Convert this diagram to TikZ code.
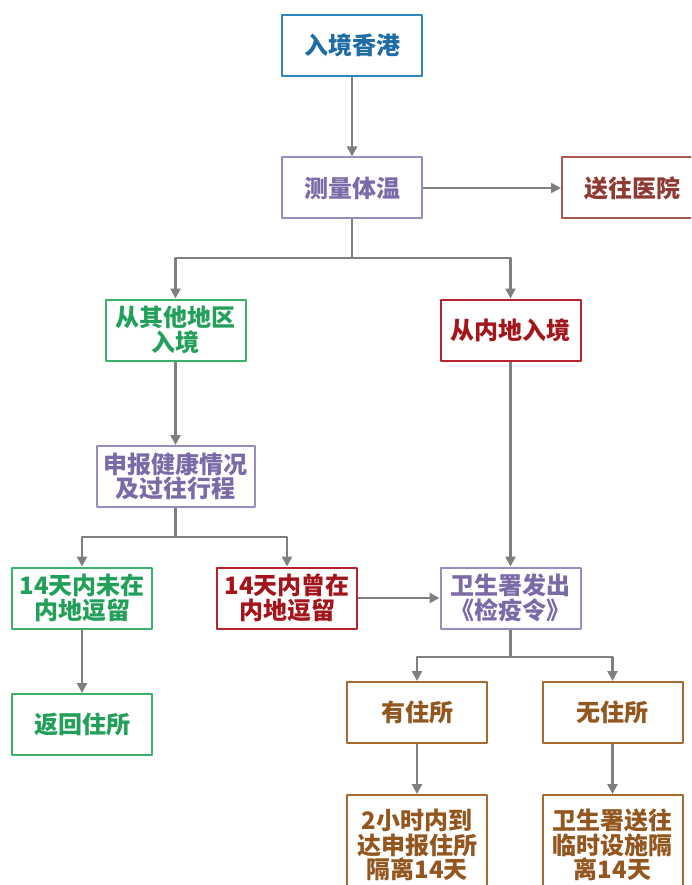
\documentclass[tikz,border=0pt]{standalone}
\usepackage{fontspec}
\setmainfont{Noto Sans CJK SC}
\usetikzlibrary{arrows.meta}
\definecolor{linkgray}{HTML}{7F7F7F}
\definecolor{bluebd}{HTML}{2F84C4}
\definecolor{bluetx}{HTML}{1E6CA6}
\definecolor{purpbd}{HTML}{9A8CC2}
\definecolor{purptx}{HTML}{7B69A8}
\definecolor{hospbd}{HTML}{A8584F}
\definecolor{hosptx}{HTML}{8E3A32}
\definecolor{grnbd}{HTML}{3AB26C}
\definecolor{grntx}{HTML}{22A05A}
\definecolor{redbd}{HTML}{B8222A}
\definecolor{redtx}{HTML}{A3141B}
\definecolor{brnbd}{HTML}{A96A30}
\definecolor{brntx}{HTML}{93561F}
\begin{document}
\begin{tikzpicture}[x=1pt,y=-1pt,>={Triangle[length=10pt,width=10pt]},line join=round,
	font=\fontsize{24}{24.5}\selectfont\bfseries,
	box/.style={draw,line width=2pt,fill=white,minimum width=140pt,minimum height=61pt,align=center,inner sep=0pt},
	bluebox/.style={box,draw=bluebd,text=bluetx},
	purpbox/.style={box,draw=purpbd,text=purptx},
	hospbox/.style={box,draw=hospbd,text=hosptx},
	grnbox/.style={box,draw=grnbd,text=grntx},
	redbox/.style={box,draw=redbd,text=redtx},
	brnbox/.style={box,draw=brnbd,text=brntx},
	line/.style={draw=linkgray,line width=2.8pt},
	link/.style={line,->}]
	\clip (0,0) rectangle (691,885);
	\fill[white] (0,0) rectangle (691,885);
	% first row
	\node[bluebox] (hk) at (352,45.5) {入境香港};
	\node[purpbox] (temp) at (352,188) {测量体温};
	\node[hospbox] (hosp) at (632,188) {送往医院};
	\node[grnbox] (other) at (175.5,330) {从其他地区\\入境};
	\node[redbox] (main) at (510.5,330) {从内地入境};
	\node[purpbox,minimum width=158pt] (report) at (175.5,476.5) {申报健康情况\\及过往行程};
	\node[grnbox] (notin) at (82,598) {14天内未在\\内地逗留};
	\node[redbox] (wasin) at (287,598) {14天内曾在\\内地逗留};
	\node[purpbox] (order) at (510.5,598) {卫生署发出\\《检疫令》};
	\node[grnbox] (home) at (82,724.5) {返回住所};
	\node[brnbox] (hasres) at (417,712.5) {有住所};
	\node[brnbox] (nores) at (612.5,712.5) {无住所};
	\node[brnbox,minimum height=100pt] (q1) at (417,845) {2小时内到\\达申报住所\\隔离14天};
	\node[brnbox,minimum height=100pt] (q2) at (612.5,845) {卫生署送往\\临时设施隔\\离14天};
	\coordinate (split1) at (352,258);
	\coordinate (split2) at (175.5,537);
	\coordinate (split3) at (510.5,657);
	% connectors
	\draw[link] (hk) -- (temp);
	\draw[link] (temp) -- (hosp);
	\draw[line] (temp) -- (split1);
	\draw[link] (split1) -| (other);
	\draw[link] (split1) -| (main);
	\draw[link] (other) -- (report);
	\draw[line] (report) -- (split2);
	\draw[link] (split2) -| (notin);
	\draw[link] (split2) -| (wasin);
	\draw[link] (notin) -- (home);
	\draw[link] (main) -- (order);
	\draw[link] (wasin) -- (order);
	\draw[line] (order) -- (split3);
	\draw[link] (split3) -| (hasres);
	\draw[link] (split3) -| (nores);
	\draw[link] (hasres) -- (q1);
	\draw[link] (nores) -- (q2);
\end{tikzpicture}
\end{document}
